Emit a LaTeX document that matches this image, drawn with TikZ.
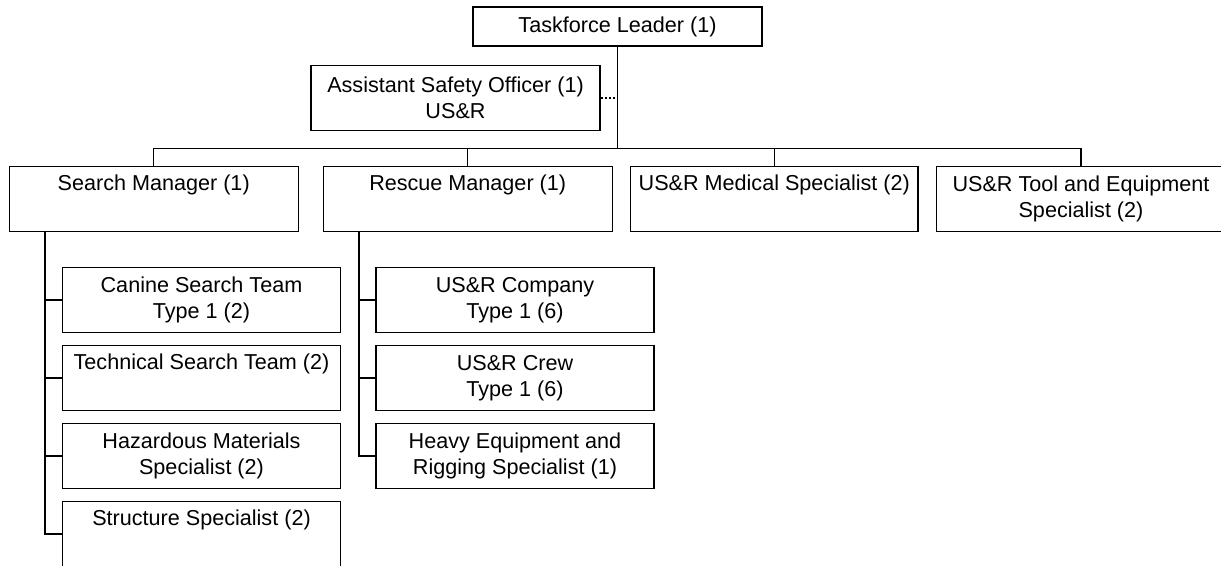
\documentclass[tikz,border=0pt]{standalone}
\usepackage{fontspec}
\setmainfont{Liberation Sans}
\begin{document}
\begin{tikzpicture}[x=0.75pt,y=-0.75pt,line width=0.8pt]
\tikzstyle{every node}+=[inner sep=0pt,font=\fontsize{16.2}{19.3}\selectfont,align=center]
\tikzstyle{post}=[draw=black,line width=0.9pt,minimum width=216.75pt,minimum height=48.75pt]
\tikzstyle{sub}=[post,minimum width=208.5pt]
\useasboundingbox (0,0) rectangle (1221,565);
\node [post,minimum height=29.25pt] (tl) at (617.5,26.5) {Taskforce Leader (1)};
\node [post] (aso) at (455.5,98) {Assistant Safety Officer (1)\\US\&R};
\node [post] (sm) at (153.7,199.2) {Search Manager (1)\\\strut};
\node [post] (rm) at (467.7,199.2) {Rescue Manager (1)\\\strut};
\node [post,minimum width=215.5pt] (med) at (774.3,199.2) {US\&R Medical Specialist (2)\\\strut};
\node [post] (tes) at (1081,199.2) {US\&R Tool and Equipment\\Specialist (2)};
\node [sub] (cst) at (201.5,300) {Canine Search Team\\Type 1 (2)};
\node [sub] (tst) at (201.5,378) {Technical Search Team (2)\\\strut};
\node [sub] (hms) at (201.5,456) {Hazardous Materials\\Specialist (2)};
\node [sub] (ss) at (201.5,534) {Structure Specialist (2)\\\strut};
\node [sub] (co) at (515,300) {US\&R Company\\Type 1 (6)};
\node [sub] (cr) at (515,378) {US\&R Crew\\Type 1 (6)};
\node [sub] (hes) at (515,456) {Heavy Equipment and\\Rigging Specialist (1)};
\coordinate (bus) at (617.5,148.7);
\coordinate (sdrop) at (45,231.7);
\coordinate (rdrop) at (359,231.7);
\draw [black] (tl) -- (bus);
\draw [black,dash pattern=on 2pt off 1pt] (aso.east) -- (aso.east -| tl.south);
\draw [black] (sm.north) |- (bus);
\draw [black] (rm.north) |- (bus);
\draw [black] (med.north) |- (bus);
\draw [black] (tes.north) |- (bus);
\draw [black] (sdrop) |- (cst.west);
\draw [black] (sdrop) |- (tst.west);
\draw [black] (sdrop) |- (hms.west);
\draw [black] (sdrop) |- (ss.west);
\draw [black] (rdrop) |- (co.west);
\draw [black] (rdrop) |- (cr.west);
\draw [black] (rdrop) |- (hes.west);
\end{tikzpicture}
\end{document}
